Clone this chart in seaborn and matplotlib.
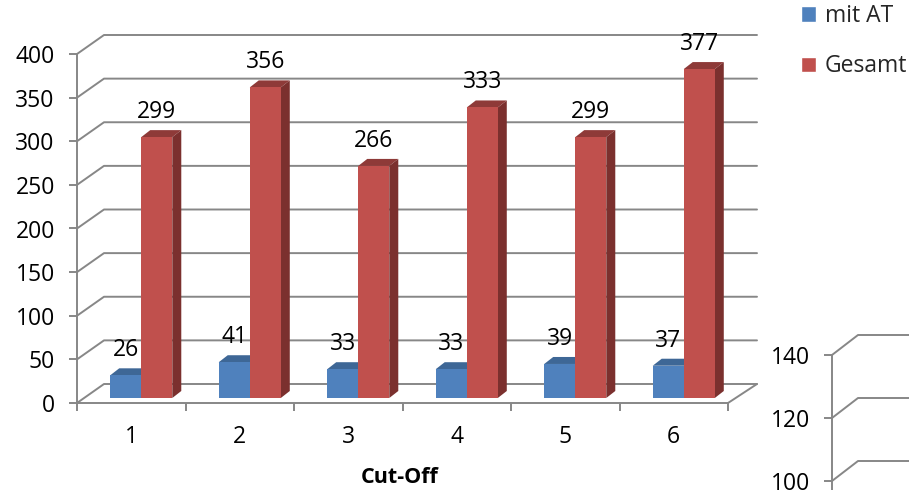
import numpy as np
import pandas as pd
import matplotlib
matplotlib.use("Agg")
import matplotlib.pyplot as plt
import seaborn as sns
from matplotlib.patches import Polygon, Patch
from matplotlib.lines import Line2D
from matplotlib.transforms import IdentityTransform, ScaledTranslation

# ---- data ----
categories = ["1", "2", "3", "4", "5", "6"]
mit_at = [26, 41, 33, 33, 39, 37]
gesamt = [299, 356, 266, 333, 299, 377]
series_names = ["mit AT", "Gesamt"]
y_ticks = [0, 50, 100, 150, 200, 250, 300, 350, 400]
side_ticks = [100, 120, 140]
x_title = "Cut-Off"

# ---- style ----
W, H, DPI = 909, 490, 100
BLUE, RED = "#4F81BD", "#C0504D"
BLUE_TOP, BLUE_SIDE = "#3E6796", "#35597F"
RED_TOP, RED_SIDE = "#8E3A38", "#7B302E"
GRID = "#878787"
DX, DY = 10, 5          # shift of the bar block (px)
BDX, BDY = 9, 7         # bar depth (px)
WDX, WDY = 27, 19       # wall depth (px)
FS = 16.5

sns.set_theme(style="white")
plt.rcParams["font.family"] = ["Open Sans", "DejaVu Sans"]

fig = plt.figure(figsize=(W / DPI, H / DPI), dpi=DPI)


def px_rect(x0, ytop, x1, ybot):
    return [x0 / W, 1 - ybot / H, (x1 - x0) / W, (ybot - ytop) / H]


ax = fig.add_axes(px_rect(77, 54, 728, 403))

df = pd.DataFrame({
    "Cut-Off": categories * 2,
    "Wert": mit_at + gesamt,
    "Serie": [s for s in series_names for _ in categories],
})
sns.barplot(data=df, x="Cut-Off", y="Wert", hue="Serie", hue_order=series_names,
            palette=[BLUE, RED], width=0.572, saturation=1, linewidth=0,
            errorbar=None, legend=False, ax=ax)
ax.set_xlim(-0.5, len(categories) - 0.5)
ax.set_ylim(min(y_ticks), max(y_ticks))
ax.set_xlabel("")
ax.set_ylabel("")
ax.set_facecolor("none")

for s in ["top", "right"]:
    ax.spines[s].set_visible(False)
for s in ["left", "bottom"]:
    ax.spines[s].set_color(GRID)
    ax.spines[s].set_linewidth(1.4)
    ax.spines[s].set_zorder(10)

ax.set_yticks(y_ticks)
ax.set_yticklabels([str(v) for v in y_ticks])
ax.set_xticks(range(len(categories)))
ax.set_xticklabels(categories)
ax.set_xticks(np.arange(-0.5, len(categories), 1), minor=True)
ax.tick_params(axis="y", left=True, length=6, width=1.4, color=GRID,
               labelsize=FS, pad=10, labelcolor="black")
ax.tick_params(axis="x", which="major", bottom=True, length=0, labelsize=FS,
               pad=16, labelcolor="black")
ax.tick_params(axis="x", which="minor", bottom=True, length=5.5, width=1.4,
               color=GRID)

ident = IdentityTransform()
xl0, xl1 = ax.get_xlim()

# back wall gridlines with depth
for v in y_ticks:
    xa, ya = ax.transData.transform((xl0, v))
    xb, _ = ax.transData.transform((xl1, v))
    ax.add_line(Line2D([xa, xa + WDX, xb + WDX + 2], [ya, ya + WDY, ya + WDY],
                       transform=ident, color=GRID, lw=1.4, zorder=1, clip_on=False))
# floor right edge
xa, ya = ax.transData.transform((xl1, y_ticks[0]))
ax.add_line(Line2D([xa, xa + WDX + 2], [ya, ya + WDY], transform=ident,
                   color=GRID, lw=1.4, zorder=1, clip_on=False))

# 3D bars
shift = ScaledTranslation(DX / DPI, DY / DPI, fig.dpi_scale_trans)
n = len(categories)
for i, p in enumerate(list(ax.patches)):
    hue_idx = i // n
    top_c, side_c = [(BLUE_TOP, BLUE_SIDE), (RED_TOP, RED_SIDE)][hue_idx]
    p.set_transform(ax.transData + shift)
    p.set_zorder(3 + 2 * hue_idx)
    p.set_clip_on(False)
    x0, y0 = ax.transData.transform((p.get_x(), 0))
    x1, y1 = ax.transData.transform((p.get_x() + p.get_width(), p.get_height()))
    x0 += DX; x1 += DX; y0 += DY; y1 += DY
    top = Polygon([(x0, y1), (x1, y1), (x1 + BDX, y1 + BDY), (x0 + BDX, y1 + BDY)],
                  closed=True, transform=ident, facecolor=top_c, edgecolor="none",
                  zorder=2.5 + 2 * hue_idx, clip_on=False)
    side = Polygon([(x1, y0), (x1 + BDX, y0 + BDY), (x1 + BDX, y1 + BDY), (x1, y1)],
                   closed=True, transform=ident, facecolor=side_c, edgecolor="none",
                   zorder=2.5 + 2 * hue_idx, clip_on=False)
    ax.add_patch(top)
    ax.add_patch(side)
    ax.text((x0 + x1) / 2, y1 + 25, f"{int(round(p.get_height()))}",
            transform=ident, ha="center", va="center", fontsize=FS,
            color="black", zorder=20)

# x axis title
fig.text(400 / W, 1 - 477 / H, x_title, ha="center", va="center",
         fontsize=15.5, fontweight="bold", color="black")

# legend
handles = [Patch(facecolor=BLUE, label=series_names[0]),
           Patch(facecolor=RED, label=series_names[1])]
fig.legend(handles=handles, loc="upper left", bbox_to_anchor=(801 / W, 1 - 4 / H),
           frameon=False, fontsize=FS, handlelength=0.65, handleheight=0.65,
           handletextpad=0.4, labelspacing=1.15, borderaxespad=0, borderpad=0)

# partial second chart at the bottom right
ax2 = fig.add_axes(px_rect(832, 355, 1100, 607))
ax2.set_ylim(60, 140)
ax2.set_xlim(0, 1)
ax2.set_facecolor("none")
for s in ["top", "right", "bottom"]:
    ax2.spines[s].set_visible(False)
ax2.spines["left"].set_color(GRID)
ax2.spines["left"].set_linewidth(1.4)
ax2.set_xticks([])
ax2.set_yticks(side_ticks)
ax2.set_yticklabels([str(v) for v in side_ticks])
ax2.tick_params(axis="y", left=True, length=6, width=1.4, color=GRID,
                labelsize=FS, pad=10, labelcolor="black")
for v in side_ticks:
    xa, ya = ax2.transData.transform((0, v))
    ax2.add_line(Line2D([xa, xa + WDX - 1, xa + 400], [ya, ya + WDY + 1, ya + WDY + 1],
                        transform=ident, color=GRID, lw=1.4, zorder=1, clip_on=False))

fig.savefig("out.png", dpi=DPI, facecolor="white")
